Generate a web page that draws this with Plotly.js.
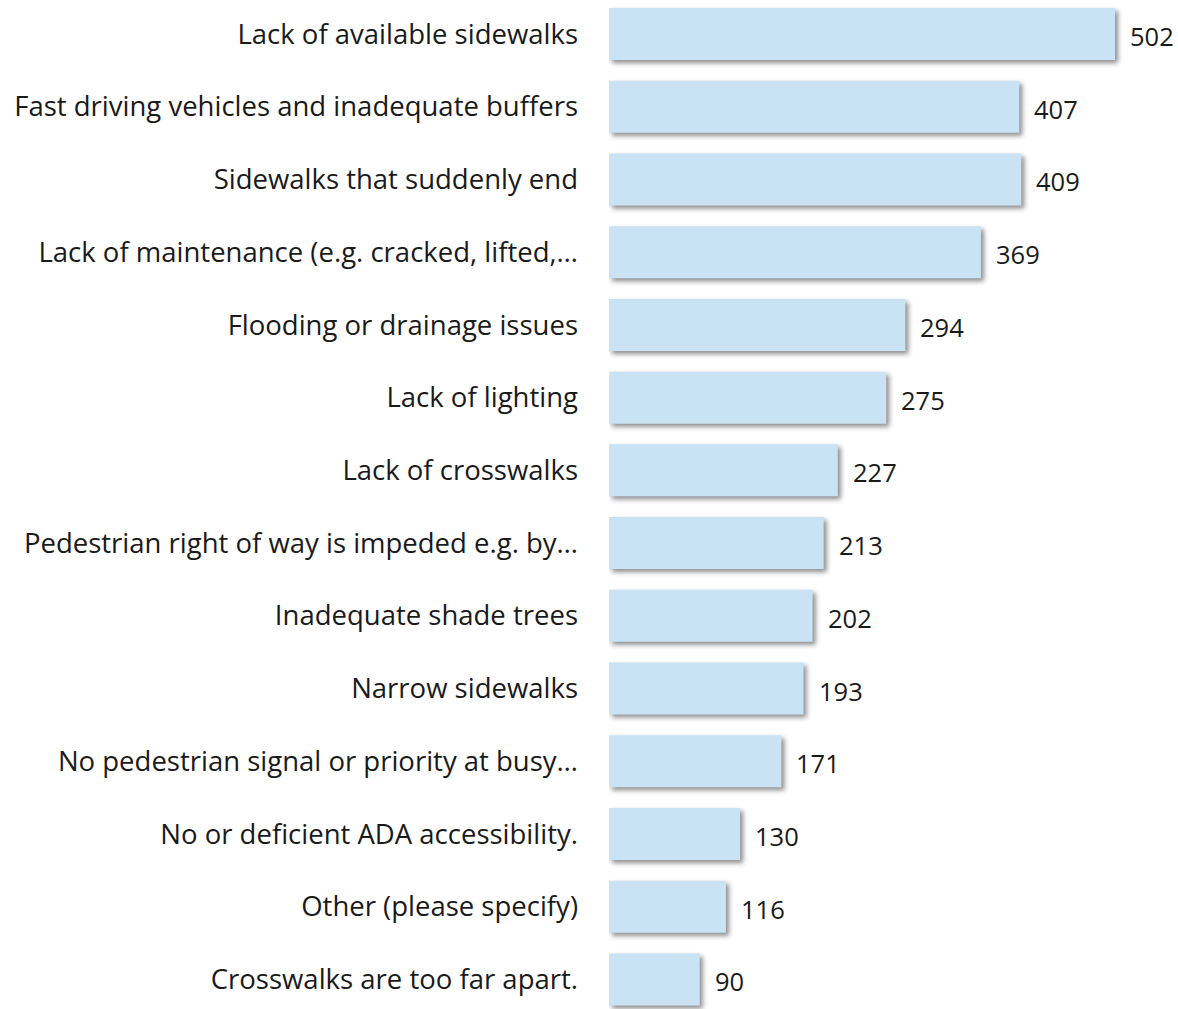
<!DOCTYPE html>
<html><head><meta charset="utf-8">
<script src="https://cdn.plot.ly/plotly-3.0.1.min.js"></script>
<style>
body{margin:0;background:#fff;}
#chart{width:1178px;height:1009px;}
.trace.bars .point path{filter:drop-shadow(3px 3px 2.5px rgba(0,0,0,0.45));}
</style></head><body>
<div id="chart"></div>
<script>
const categories = [
  "Lack of available sidewalks",
  "Fast driving vehicles and inadequate buffers",
  "Sidewalks that suddenly end",
  "Lack of maintenance (e.g. cracked, lifted,…",
  "Flooding or drainage issues",
  "Lack of lighting",
  "Lack of crosswalks",
  "Pedestrian right of way is impeded e.g. by…",
  "Inadequate shade trees",
  "Narrow sidewalks",
  "No pedestrian signal or priority at busy…",
  "No or deficient ADA accessibility.",
  "Other (please specify)",
  "Crosswalks are too far apart."
];
const counts = [502, 407, 409, 369, 294, 275, 227, 213, 202, 193, 171, 130, 116, 90];

const font = "'Segoe UI', 'Open Sans', 'Noto Sans', sans-serif";

const trace = {
  type: 'bar',
  orientation: 'h',
  y: categories,
  x: counts,
  marker: {color: '#c9e3f5', line: {width: 0}},
  hoverinfo: 'x+y'
};

const annotations = counts.map((v, i) => ({
  x: v, y: categories[i], xref: 'x', yref: 'y',
  text: String(v), showarrow: false,
  xanchor: 'left', yanchor: 'middle', xshift: 13, yshift: -2,
  font: {family: font, size: 25.5, color: '#1a1a1a'}
}));

const layout = {
  width: 1178, height: 1009,
  margin: {l: 609, r: 0, t: 0, b: 0},
  paper_bgcolor: '#ffffff', plot_bgcolor: '#ffffff',
  bargap: 0.285,
  showlegend: false,
  font: {family: font, color: '#1a1a1a'},
  xaxis: {range: [0, 564.5], visible: false, fixedrange: true},
  yaxis: {
    type: 'category',
    range: [13.406, -0.4675],
    showgrid: false, zeroline: false, showline: false,
    ticks: '', ticklabelstandoff: 30,
    tickfont: {family: font, size: 27.5, color: '#1a1a1a'}
  },
  annotations: annotations
};

Plotly.newPlot('chart', [trace], layout, {displayModeBar: false, staticPlot: true});
</script>
</body></html>
